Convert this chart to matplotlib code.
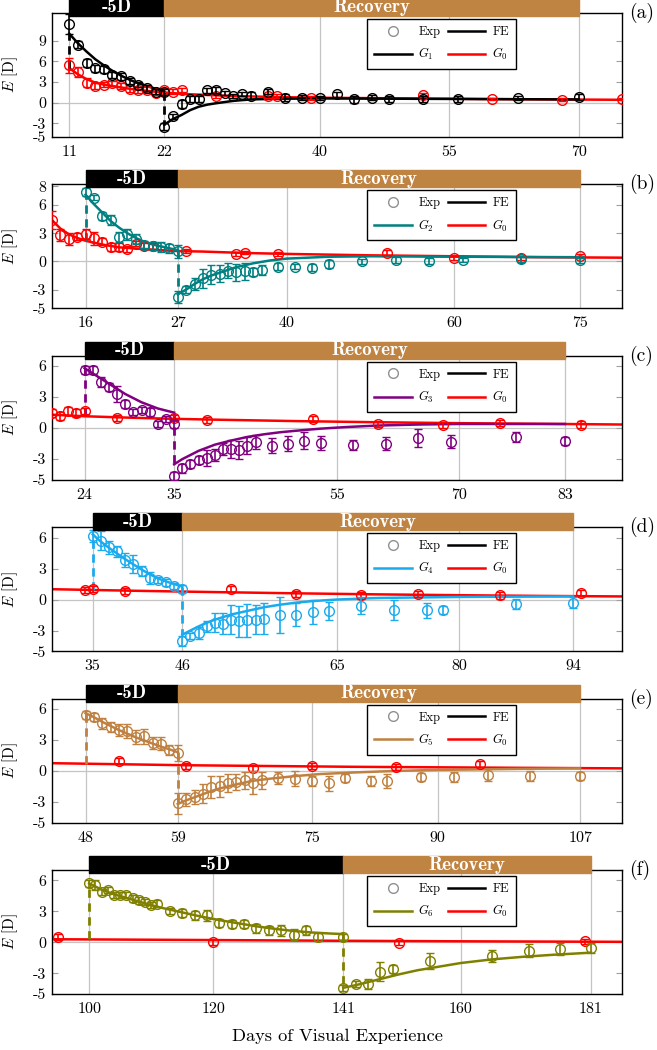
import numpy as np
import matplotlib
matplotlib.use('Agg')
import matplotlib.pyplot as plt
import matplotlib.transforms as mtransforms
from matplotlib.patches import Rectangle
from matplotlib.lines import Line2D

plt.rcParams['font.family'] = ['cmr10', 'DejaVu Serif']
plt.rcParams['mathtext.fontset'] = 'cm'
plt.rcParams['axes.unicode_minus'] = False

# ---- painel (a) ----
a_days = [11, 12, 13, 14, 15, 16, 17, 18, 19, 20, 21, 22,
          22, 23, 24, 25, 26, 27, 28, 29, 30, 31, 32,
          34, 36, 38, 40, 42, 44, 46, 48, 52, 56, 63, 70]
a_vals = [11.4, 8.4, 5.75, 5.0, 4.8, 4.0, 3.8, 3.1, 2.6, 2.1, 1.6, 1.5,
          -3.5, -2.0, -0.2, 0.5, 0.5, 1.75, 1.85, 1.4, 0.9, 1.2, 1.0,
          1.6, 0.7, 0.7, 0.6, 1.2, 0.5, 0.7, 0.5, 0.5, 0.5, 0.7, 0.8]
a_errs = [1.5, 0.5, 0.6, 0.5, 0.5, 0.4, 0.5, 0.4, 0.4, 0.4, 0.4, 0.4,
          0.5, 0.4, 0.6, 0.4, 0.4, 0.4, 0.4, 0.3, 0.3, 0.3, 0.5,
          0.4, 0.5, 0.4, 0.3, 0.4, 0.5, 0.4, 0.4, 0.4, 0.4, 0.3, 0.4]
a_red_days = [11, 12, 13, 14, 15, 16, 17, 18, 19, 20, 21, 22, 23, 24, 28, 34, 35, 39, 52, 60, 68, 75]
a_red_vals = [5.4, 4.4, 2.9, 2.4, 2.6, 2.8, 2.4, 2.0, 1.85, 1.85, 1.4, 1.85, 1.6, 1.85,
              0.9, 0.9, 1.0, 0.7, 1.1, 0.5, 0.4, 0.5]
a_red_errs = [1.1, 0.7, 0.6, 0.4, 0.4, 0.4, 0.4, 0.5, 0.4, 0.4, 0.3, 0.3, 0.3, 0.3,
              0.3, 0.3, 0.3, 0.3, 0.3, 0.2, 0.2, 0.2]
a_lens_x = [11, 12, 13, 14, 15, 16, 17, 18, 19, 20, 21, 22]
a_lens_y = [10.0, 8.6, 7.4, 6.3, 5.4, 4.6, 3.9, 3.3, 2.8, 2.4, 2.0, 1.6]
a_rec_x = [22, 23, 24, 25, 26, 27, 28, 30, 32, 35, 40, 50, 60, 70]
a_rec_y = [-3.2, -2.4, -1.8, -1.1, -0.6, -0.3, -0.1, 0.25, 0.45, 0.55, 0.6, 0.55, 0.5, 0.45]
a_g0_x = [11, 12, 13, 14, 15, 16, 18, 20, 22, 25, 30, 35, 40, 50, 60, 75]
a_g0_y = [5.0, 4.1, 3.4, 2.9, 2.6, 2.4, 2.0, 1.7, 1.45, 1.2, 0.95, 0.8, 0.7, 0.6, 0.5, 0.4]

# ---- painel (b) ----
b_days = [16, 17, 18, 19, 20, 21, 22, 23, 24, 25, 26, 27,
          27, 28, 29, 30, 31, 32, 33, 34, 35, 36, 37,
          39, 41, 43, 45, 49, 53, 57, 61, 68, 75]
b_vals = [7.4, 6.8, 4.85, 4.4, 2.6, 2.9, 2.4, 1.8, 1.65, 1.55, 1.4, 1.1,
          -3.8, -3.0, -2.4, -1.8, -1.4, -1.3, -1.0, -1.15, -1.05, -1.15, -0.9,
          -0.55, -0.55, -0.65, -0.3, 0.0, 0.15, 0.05, 0.15, 0.25, 0.1]
b_errs = [0.4, 0.3, 0.4, 0.5, 0.5, 0.6, 0.5, 0.4, 0.4, 0.5, 0.5, 0.7,
          0.6, 0.4, 0.6, 1.0, 1.0, 0.9, 0.8, 0.9, 0.9, 0.4, 0.5,
          0.4, 0.3, 0.4, 0.4, 0.3, 0.3, 0.3, 0.2, 0.3, 0.3]
b_red_days = [12, 13, 14, 15, 16, 17, 18, 19, 20, 21, 22, 23, 24, 28, 34, 35, 39, 52, 60, 68, 75]
b_red_vals = [4.4, 2.8, 2.4, 2.65, 2.9, 2.45, 2.1, 1.55, 1.55, 1.3, 1.9, 1.65, 1.65,
              1.1, 0.8, 0.95, 0.8, 0.95, 0.35, 0.35, 0.6]
b_red_errs = [1.0, 0.6, 0.6, 0.4, 0.5, 0.7, 0.4, 0.4, 0.4, 0.3, 0.3, 0.3, 0.3,
              0.2, 0.2, 0.2, 0.2, 0.3, 0.2, 0.2, 0.2]
b_lens_x = [16, 17, 18, 19, 20, 21, 22, 23, 24, 25, 26, 27]
b_lens_y = [7.1, 6.1, 5.2, 4.3, 3.6, 3.0, 2.5, 2.1, 1.8, 1.6, 1.4, 1.2]
b_rec_x = [27, 28, 29, 30, 31, 32, 33, 34, 36, 38, 40, 45, 50, 60, 75]
b_rec_y = [-3.5, -3.0, -2.4, -1.9, -1.5, -1.2, -0.9, -0.6, -0.2, 0.1, 0.3, 0.5, 0.55, 0.5, 0.45]
b_g0_x = [12, 13, 14, 15, 16, 18, 20, 24, 27, 30, 35, 40, 50, 60, 70, 80]
b_g0_y = [4.4, 3.5, 2.9, 2.5, 2.2, 1.8, 1.5, 1.25, 1.1, 1.05, 0.9, 0.8, 0.65, 0.55, 0.45, 0.4]

# ---- painel (c) ----
c_days = [24, 25, 26, 27, 28, 29, 30, 31, 32, 33, 34, 35,
          35, 36, 37, 38, 39, 40, 41, 42, 43, 44, 45,
          47, 49, 51, 53, 57, 61, 65, 69, 77, 83]
c_vals = [5.65, 5.6, 4.45, 4.0, 3.3, 2.35, 1.55, 1.75, 1.55, 0.4, 0.85, 0.4,
          -4.6, -3.9, -3.45, -3.05, -2.9, -2.6, -2.0, -2.0, -2.1, -1.7, -1.35,
          -1.7, -1.5, -1.2, -1.45, -1.6, -1.5, -0.95, -1.3, -0.85, -1.25]
c_errs = [0.4, 0.4, 0.5, 0.4, 0.8, 0.4, 0.3, 0.3, 0.4, 0.3, 0.3, 0.4,
          0.4, 0.4, 0.4, 0.4, 0.8, 0.6, 0.6, 0.9, 0.9, 0.8, 0.7,
          0.7, 0.7, 0.8, 0.7, 0.5, 0.6, 0.9, 0.6, 0.5, 0.4]
c_red_days = [20, 21, 22, 23, 24, 28, 35, 39, 52, 60, 68, 75, 85]
c_red_vals = [1.5, 1.2, 1.65, 1.45, 1.65, 1.0, 0.95, 0.75, 0.9, 0.4, 0.3, 0.5, 0.35]
c_red_errs = [0.4, 0.4, 0.4, 0.4, 0.3, 0.3, 0.3, 0.3, 0.3, 0.3, 0.3, 0.3, 0.3]
c_lens_x = [24, 25, 26, 27, 28, 29, 30, 31, 32, 33, 34, 35]
c_lens_y = [5.8, 5.3, 4.8, 4.3, 3.8, 3.3, 2.9, 2.5, 2.2, 1.9, 1.7, 1.5]
c_rec_x = [35, 36, 37, 38, 39, 40, 42, 44, 46, 48, 50, 53, 56, 60, 65, 70, 83]
c_rec_y = [-3.5, -3.0, -2.6, -2.2, -1.9, -1.6, -1.2, -0.85, -0.6, -0.4, -0.25, -0.05,
           0.1, 0.25, 0.35, 0.4, 0.4]
c_g0_x = [20, 24, 30, 35, 40, 50, 60, 70, 80, 90]
c_g0_y = [1.3, 1.15, 1.0, 0.9, 0.82, 0.68, 0.57, 0.48, 0.42, 0.35]

# ---- painel (d) ----
d_days = [35, 36, 37, 38, 39, 40, 41, 42, 43, 44, 45, 46,
          46, 47, 48, 49, 50, 51, 52, 53, 54, 55, 56,
          58, 60, 62, 64, 68, 72, 76, 78, 87, 94]
d_vals = [6.15, 5.7, 5.05, 4.65, 3.85, 3.45, 2.75, 2.1, 1.9, 1.65, 1.3, 1.0,
          -4.0, -3.5, -3.25, -2.6, -2.25, -2.35, -1.95, -2.1, -2.0, -1.95, -1.85,
          -1.5, -1.45, -1.2, -1.1, -0.6, -1.0, -1.05, -1.0, -0.45, -0.3]
d_errs = [0.6, 0.9, 0.6, 0.5, 0.7, 0.9, 0.5, 0.6, 0.3, 0.3, 0.3, 0.4,
          0.5, 0.3, 0.6, 0.5, 0.9, 1.0, 1.4, 1.5, 1.6, 1.4, 1.5,
          1.7, 1.1, 1.2, 0.9, 0.8, 1.0, 0.7, 0.4, 0.5, 0.5]
d_red_days = [34, 35, 39, 52, 60, 68, 75, 85, 95]
d_red_vals = [0.9, 1.0, 0.8, 1.0, 0.5, 0.4, 0.5, 0.4, 0.65]
d_red_errs = [0.3, 0.3, 0.3, 0.3, 0.3, 0.3, 0.3, 0.3, 0.3]
d_lens_x = [35, 36, 37, 38, 39, 40, 41, 42, 43, 44, 45, 46]
d_lens_y = [6.3, 5.6, 5.0, 4.45, 3.9, 3.4, 2.9, 2.45, 2.05, 1.75, 1.5, 1.25]
d_rec_x = [46, 47, 48, 49, 50, 52, 54, 56, 58, 60, 62, 65, 70, 80, 94]
d_rec_y = [-3.4, -3.0, -2.6, -2.25, -1.95, -1.45, -1.1, -0.75, -0.5, -0.3, -0.15, 0.0, 0.15, 0.25, 0.3]
d_g0_x = [30, 40, 50, 60, 70, 80, 90, 100]
d_g0_y = [1.0, 0.85, 0.72, 0.6, 0.5, 0.42, 0.35, 0.3]

# ---- painel (e) ----
e_days = [48, 49, 50, 51, 52, 53, 54, 55, 56, 57, 58, 59,
          59, 60, 61, 62, 63, 64, 65, 66, 67, 68, 69,
          71, 73, 75, 77, 79, 82, 84, 88, 92, 96, 101, 107]
e_vals = [5.4, 5.2, 4.6, 4.25, 3.95, 3.85, 3.3, 3.35, 2.7, 2.65, 2.0, 1.75,
          -3.15, -2.75, -2.5, -2.2, -1.55, -1.5, -1.15, -1.05, -0.9, -1.15, -0.9,
          -0.7, -0.75, -0.95, -1.2, -0.7, -0.95, -0.95, -0.6, -0.6, -0.4, -0.5, -0.5]
e_errs = [0.4, 0.4, 0.5, 0.5, 0.6, 0.7, 0.7, 0.7, 0.6, 0.6, 0.5, 0.8,
          1.0, 0.6, 0.7, 0.9, 1.1, 1.0, 0.9, 0.8, 0.8, 1.1, 0.8,
          0.6, 0.7, 0.5, 0.7, 0.4, 0.5, 0.7, 0.4, 0.5, 0.6, 0.5, 0.4]
e_red_days = [52, 60, 68, 75, 85, 95]
e_red_vals = [0.95, 0.45, 0.3, 0.5, 0.4, 0.7]
e_red_errs = [0.3, 0.3, 0.3, 0.3, 0.3, 0.3]
e_lens_x = [48, 49, 50, 51, 52, 53, 54, 55, 56, 57, 58, 59]
e_lens_y = [5.6, 5.2, 4.75, 4.35, 3.95, 3.6, 3.25, 2.95, 2.65, 2.35, 2.1, 1.8]
e_rec_x = [59, 60, 61, 62, 63, 64, 66, 68, 70, 73, 76, 80, 85, 90, 100, 107]
e_rec_y = [-3.2, -2.85, -2.55, -2.25, -1.95, -1.7, -1.3, -0.95, -0.75, -0.5, -0.3, -0.15,
           0.0, 0.1, 0.2, 0.25]
e_g0_x = [44, 60, 80, 100, 112]
e_g0_y = [0.75, 0.55, 0.4, 0.3, 0.25]

# ---- painel (f) ----
f_days = [100, 101, 102, 103, 104, 105, 106, 107, 108, 109, 110, 111,
          113, 115, 117, 119, 121, 123, 125, 127, 129, 131, 133, 135, 137, 141,
          141, 143, 145, 147, 149, 155, 165, 171, 176, 181]
f_vals = [5.7, 5.55, 4.9, 5.1, 4.6, 4.6, 4.6, 4.25, 4.05, 3.9, 3.6, 3.75,
          3.0, 2.85, 2.6, 2.6, 1.9, 1.75, 1.8, 1.35, 1.15, 1.15, 0.75, 1.15, 0.55, 0.5,
          -4.45, -4.05, -4.0, -2.85, -2.6, -1.8, -1.3, -0.8, -0.65, -0.55]
f_errs = [0.3, 0.5, 0.3, 0.3, 0.3, 0.3, 0.3, 0.3, 0.3, 0.3, 0.3, 0.3,
          0.3, 0.4, 0.4, 0.5, 0.4, 0.4, 0.4, 0.4, 0.4, 0.5, 0.5, 0.4, 0.4, 0.3,
          0.3, 0.3, 0.5, 0.9, 0.4, 0.8, 0.6, 0.6, 0.6, 0.5]
f_red_days = [95, 120, 150, 180]
f_red_vals = [0.55, 0.0, -0.05, 0.1]
f_red_errs = [0.3, 0.25, 0.25, 0.25]
f_lens_x = [100, 102, 104, 106, 108, 110, 112, 115, 118, 121, 124, 127, 130, 133, 136, 139, 141]
f_lens_y = [5.7, 5.1, 4.65, 4.3, 3.95, 3.6, 3.3, 2.9, 2.5, 2.15, 1.85, 1.55, 1.3, 1.1, 0.95, 0.85, 0.8]
f_rec_x = [141, 143, 145, 147, 150, 153, 156, 160, 165, 170, 175, 181]
f_rec_y = [-4.4, -4.15, -3.85, -3.55, -3.1, -2.7, -2.4, -2.0, -1.65, -1.4, -1.2, -1.0]
f_g0_x = [94, 120, 141, 160, 186]
f_g0_y = [0.3, 0.22, 0.15, 0.1, 0.05]

# fases (inicio lente, fim lente, fim recuperacao), ticks e limites
phases = [(11, 22, 70), (16, 27, 75), (24, 35, 83), (35, 46, 94), (48, 59, 107), (100, 141, 181)]
xticks = [[11, 22, 40, 55, 70], [16, 27, 40, 60, 75], [24, 35, 55, 70, 83],
          [35, 46, 65, 80, 94], [48, 59, 75, 90, 107], [100, 120, 141, 160, 181]]
xlims = [(9, 75), (12, 80), (20, 90), (30, 100), (44, 112), (94, 186)]
ylims = [(-5, 13), (-5, 8.2), (-5, 7), (-5, 7), (-5, 7), (-5, 7)]
yticks = [[-5, -3, 0, 3, 6, 9], [-5, -3, 0, 3, 6, 8], [-5, -3, 0, 3, 6],
          [-5, -3, 0, 3, 6], [-5, -3, 0, 3, 6], [-5, -3, 0, 3, 6]]
letters = ['a', 'b', 'c', 'd', 'e', 'f']
colors = ['black', '#008080', '#800080', '#1AABEF', '#BF8040', '#808000']
brown = '#C08442'

panels = [
    (a_days, a_vals, a_errs, a_red_days, a_red_vals, a_red_errs, a_lens_x, a_lens_y, a_rec_x, a_rec_y, a_g0_x, a_g0_y),
    (b_days, b_vals, b_errs, b_red_days, b_red_vals, b_red_errs, b_lens_x, b_lens_y, b_rec_x, b_rec_y, b_g0_x, b_g0_y),
    (c_days, c_vals, c_errs, c_red_days, c_red_vals, c_red_errs, c_lens_x, c_lens_y, c_rec_x, c_rec_y, c_g0_x, c_g0_y),
    (d_days, d_vals, d_errs, d_red_days, d_red_vals, d_red_errs, d_lens_x, d_lens_y, d_rec_x, d_rec_y, d_g0_x, d_g0_y),
    (e_days, e_vals, e_errs, e_red_days, e_red_vals, e_red_errs, e_lens_x, e_lens_y, e_rec_x, e_rec_y, e_g0_x, e_g0_y),
    (f_days, f_vals, f_errs, f_red_days, f_red_vals, f_red_errs, f_lens_x, f_lens_y, f_rec_x, f_rec_y, f_g0_x, f_g0_y),
]

W, H = 657, 1050
fig = plt.figure(figsize=(W / 100, H / 100), dpi=100)

for i, p in enumerate(panels):
    days, vals, errs, rdays, rvals, rerrs, lx, ly, rx, ry, gx, gy = p
    col = colors[i]
    top = 13 + 171.4 * i
    ax = fig.add_axes([52 / W, 1 - (top + 124) / H, 570 / W, 124 / H])

    # grade e linha do zero
    ax.set_xticks(xticks[i])
    ax.set_xticklabels([str(t) for t in xticks[i]])
    ax.set_yticks(yticks[i])
    ax.set_yticklabels([str(t) for t in yticks[i]])
    ax.set_xlim(*xlims[i])
    ax.set_ylim(*ylims[i])
    ax.set_axisbelow(True)
    ax.grid(axis='x', color='#c4c4c4', lw=0.9)
    ax.axhline(0, color='#c4c4c4', lw=0.9, zorder=0.5)
    ax.tick_params(axis='y', direction='in', length=4, color='#a0a0a0',
                   left=True, right=True, labelsize=11.5, pad=4)
    ax.tick_params(axis='x', length=0, labelsize=11.5, pad=6)
    for s in ax.spines.values():
        s.set_linewidth(1.0)

    # curva G0 e dados controle
    ax.plot(gx, gy, color='red', lw=1.8, zorder=2)
    ax.errorbar(rdays, rvals, yerr=rerrs, fmt='o', mfc='none', mec='red', ms=7, mew=1.0,
                ecolor='red', elinewidth=1.2, capsize=3, capthick=1.2, zorder=3)

    # curvas do modelo com saltos tracejados
    x0, x1, x2 = phases[i]
    g0_start = np.interp(x0, gx, gy)
    ax.plot([x0, x0], [g0_start, ly[0]], color=col, lw=2, ls=(0, (3, 2)), zorder=2)
    ax.plot([x1, x1], [ly[-1], ry[0]], color=col, lw=2, ls=(0, (3, 2)), zorder=2)
    ax.plot(lx, ly, color=col, lw=1.8, zorder=2)
    ax.plot(rx, ry, color=col, lw=1.8, zorder=2)
    ax.errorbar(days, vals, yerr=errs, fmt='o', mfc='none', mec=col, ms=7, mew=1.0,
                ecolor=col, elinewidth=1.2, capsize=3, capthick=1.2, zorder=4)

    # faixa de fases no topo
    tr = mtransforms.blended_transform_factory(ax.transData, ax.transAxes)
    y0 = 1 - 3 / 124
    hh = 17 / 124
    ax.add_patch(Rectangle((x0, y0), x1 - x0, hh, transform=tr, color='black',
                           clip_on=False, zorder=6))
    ax.add_patch(Rectangle((x1, y0), x2 - x1, hh, transform=tr, color=brown,
                           clip_on=False, zorder=6))
    ym = y0 + hh / 2
    ax.text((x0 + x1) / 2, ym, '-5D', transform=tr, color='white', fontsize=13.5,
            family=['cmb10', 'cmr10'], ha='center', va='center', zorder=7, clip_on=False)
    ax.text((x1 + x2) / 2, ym, 'Recovery', transform=tr, color='white', fontsize=13.5,
            family=['cmb10', 'cmr10'], ha='center', va='center', zorder=7, clip_on=False)

    ax.text(1.013, 1.0, '(%s)' % letters[i], transform=ax.transAxes, fontsize=14,
            ha='left', va='center')
    ax.set_ylabel(r'$E$ [D]', fontsize=11, va='center')
    ax.yaxis.set_label_coords(-0.074, 0.5)

    handles = [Line2D([], [], marker='o', ls='none', mfc='none', mec='#909090', ms=7, mew=1.0),
               Line2D([], [], color=col, lw=1.8),
               Line2D([], [], color='black', lw=1.8),
               Line2D([], [], color='red', lw=1.8)]
    labels = ['Exp', r'$G_%d$' % (i + 1), 'FE', r'$G_0$']
    leg = ax.legend(handles, labels, ncol=2, loc='upper left', bbox_to_anchor=(0.553, 0.952),
                    borderaxespad=0, fontsize=9, frameon=True, fancybox=False, framealpha=1,
                    edgecolor='black', handlelength=3.0, handletextpad=0.55, columnspacing=0.6,
                    labelspacing=0.65, borderpad=0.55)
    leg.get_frame().set_linewidth(1.0)
    leg.set_zorder(8)

fig.text(337 / W, 1 - 1036 / H, 'Days of Visual Experience', fontsize=13.2,
         ha='center', va='center')

fig.savefig('out.png', dpi=100)
